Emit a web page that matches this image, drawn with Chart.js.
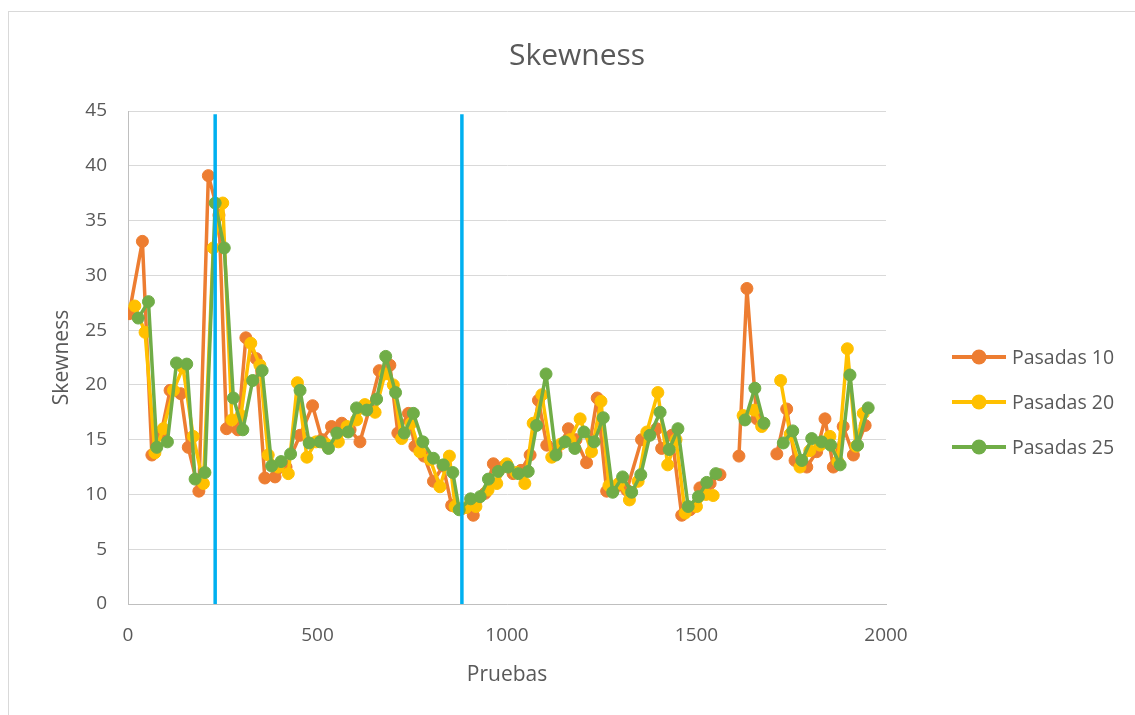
<!DOCTYPE html>
<html>
<head>
<meta charset="utf-8">
<script src="https://cdn.jsdelivr.net/npm/chart.js@4/dist/chart.umd.min.js"></script>
<style>
  html, body { margin: 0; padding: 0; background: #fff; }
  #wrap { position: relative; width: 1135px; height: 715px; }
</style>
</head>
<body>
<div id="wrap"><canvas id="chart"></canvas></div>
<script>
// datos (null = hueco en la serie)
const seriesNames = ['Pasadas 10', 'Pasadas 20', 'Pasadas 25'];
const seriesColors = ['#ED7D31', '#FFC000', '#70AD47'];

const orangeX = [3,38,63,87,111,139,159,187,212,240,260,290,311,338,361,388,417,454,487,512,537,564,586,612,637,663,691,712,740,757,781,806,831,854,881,911,942,964,989,1016,1037,1061,1083,1105,1129,1162,1182,1210,1238,1263,1282,1316,1355,1395,1408,1435,1461,1483,1509,1536,1562,1590,1612,1633,1659,1673,1692,1712,1738,1760,1791,1817,1839,1861,1887,1914,1945];
const orangeY = [26.5,33.1,13.6,15.5,19.5,19.2,14.3,10.3,39.1,35.5,16.0,15.9,24.3,22.4,11.5,11.6,12.5,15.4,18.1,15.0,16.2,16.5,15.9,14.8,17.8,21.3,21.8,15.6,17.4,14.4,13.5,11.2,12.6,9.0,8.7,8.1,10.1,12.8,12.5,11.9,12.2,13.6,18.6,14.5,13.8,16.0,15.0,12.9,18.8,10.3,10.5,10.4,15.0,16.0,14.2,15.4,8.1,8.6,10.6,11.0,11.8,null,13.5,28.8,16.9,16.3,null,13.7,17.8,13.1,12.5,13.9,16.9,12.5,16.2,13.6,16.3];

const yellowX = [18,45,71,93,120,145,172,199,225,250,274,298,324,348,370,396,423,447,472,496,522,555,578,603,625,652,678,700,722,747,770,797,823,848,863,892,918,950,973,999,1024,1047,1069,1092,1118,1142,1166,1193,1223,1248,1269,1295,1323,1346,1369,1398,1424,1446,1470,1500,1525,1544,1590,1623,1652,1672,1692,1722,1747,1773,1799,1826,1852,1873,1898,1921,1940];
const yellowY = [27.2,24.8,13.8,16.0,19.5,21.6,15.3,11.0,32.5,36.6,16.8,17.2,23.8,21.8,13.6,12.5,11.9,20.2,13.4,14.8,14.6,14.8,16.2,16.8,18.2,17.5,21.0,20.0,15.1,16.5,13.9,13.2,10.7,13.5,8.9,8.8,8.9,10.4,11.0,12.8,12.0,11.0,16.5,19.1,13.4,14.6,15.0,16.9,13.9,18.5,10.8,11.0,9.5,11.2,15.7,19.3,12.7,15.0,8.3,8.9,10.0,9.9,null,17.2,17.7,16.2,null,20.4,15.5,12.5,14.0,14.5,15.3,13.0,23.3,14.4,17.4];

const greenX = [27,54,76,104,128,155,177,203,230,254,278,303,329,354,379,404,429,454,478,507,529,551,581,603,630,656,680,706,729,753,778,806,832,857,874,904,929,951,977,1003,1030,1056,1078,1103,1129,1153,1179,1203,1230,1254,1279,1305,1329,1353,1377,1404,1428,1451,1478,1505,1527,1551,1590,1628,1654,1678,1700,1729,1754,1778,1804,1830,1854,1879,1905,1925,1953];
const greenY = [26.1,27.6,14.3,14.8,22.0,21.9,11.4,12.0,36.6,32.5,18.8,15.9,20.4,21.3,12.6,13.0,13.7,19.5,14.7,14.8,14.2,15.6,15.7,17.9,17.7,18.7,22.6,19.3,15.6,17.4,14.8,13.3,12.7,12.0,8.6,9.6,9.8,11.4,12.1,12.5,11.9,12.1,16.3,21.0,13.6,14.8,14.2,15.7,14.8,17.0,10.2,11.6,10.2,11.8,15.4,17.5,14.1,16.0,8.9,9.8,11.1,11.9,null,16.8,19.7,16.5,null,14.7,15.8,13.1,15.1,14.8,14.5,12.7,20.9,14.5,17.9];

// lineas verticales de corte
const cutX = [230, 881];
const cutBottom = 0;
const cutTop = 44.7;

const xTicks = [0, 500, 1000, 1500, 2000];
const yTicks = [0, 5, 10, 15, 20, 25, 30, 35, 40, 45];

const textColor = '#595959';
Chart.defaults.font.family = "'Open Sans', 'Noto Sans', sans-serif";
Chart.defaults.color = textColor;

function puntos(xs, ys) {
    return xs.map((x, i) => ({ x: x, y: ys[i] }));
}

function serie(i, xs, ys) {
    return {
        label: seriesNames[i],
        data: puntos(xs, ys),
        showLine: true,
        spanGaps: false,
        borderColor: seriesColors[i],
        backgroundColor: seriesColors[i],
        borderWidth: 3.5,
        borderJoinStyle: 'round',
        borderCapStyle: 'round',
        pointRadius: 6,
        pointBorderWidth: 1,
        pointBackgroundColor: seriesColors[i],
        pointBorderColor: seriesColors[i],
        order: 3 - i
    };
}

const datasets = [
    serie(0, orangeX, orangeY),
    serie(1, yellowX, yellowY),
    serie(2, greenX, greenY)
];
cutX.forEach(x => {
    datasets.push({
        data: [{ x: x, y: cutBottom }, { x: x, y: cutTop }],
        showLine: true,
        borderColor: '#00B0F0',
        borderWidth: 3.5,
        pointRadius: 0,
        order: 0
    });
});

// titulo, leyenda y borde del area del grafico
const decoracion = {
    id: 'decoracion',
    beforeDraw(chart) {
        const c = chart.ctx;
        c.save();
        c.strokeStyle = '#d9d9d9';
        c.lineWidth = 1;
        c.strokeRect(8.5, 11.5, 2000, 2000);
        c.restore();
    },
    afterDraw(chart) {
        const c = chart.ctx;
        c.save();
        c.fillStyle = textColor;
        c.font = "30px 'Open Sans'";
        c.textAlign = 'center';
        c.textBaseline = 'middle';
        c.fillText('Skewness', 577, 56);

        const items = chart.data.datasets.filter(d => d.label);
        items.forEach((d, i) => {
            const y = 357 + i * 45;
            c.strokeStyle = d.borderColor;
            c.lineWidth = 4;
            c.beginPath();
            c.moveTo(952, y);
            c.lineTo(1006, y);
            c.stroke();
            c.fillStyle = d.borderColor;
            c.beginPath();
            c.arc(979, y, 7.5, 0, Math.PI * 2);
            c.fill();
            c.fillStyle = textColor;
            c.font = "19.5px 'Open Sans'";
            c.textAlign = 'left';
            c.fillText(d.label, 1012, y + 1);
        });
        c.restore();
    }
};

new Chart(document.getElementById('chart'), {
    type: 'scatter',
    data: { datasets: datasets },
    plugins: [decoracion],
    options: {
        responsive: true,
        maintainAspectRatio: false,
        animation: false,
        layout: { padding: { top: 111, right: 249, bottom: 0, left: 0 } },
        plugins: {
            legend: { display: false },
            title: { display: false },
            tooltip: { enabled: false }
        },
        scales: {
            x: {
                type: 'linear',
                min: 0,
                max: 2000,
                afterBuildTicks: s => { s.ticks = xTicks.map(v => ({ value: v })); },
                afterFit: s => { s.height = 111; },
                grid: { display: false, drawTicks: false },
                border: { display: true, color: '#bfbfbf', width: 1 },
                ticks: { padding: 20, color: textColor, font: { size: 19 }, callback: v => String(v) },
                title: {
                    display: true,
                    text: 'Pruebas',
                    color: textColor,
                    font: { size: 21 },
                    padding: { top: 0, bottom: 27 }
                }
            },
            y: {
                min: 0,
                max: 45,
                afterBuildTicks: s => { s.ticks = yTicks.map(v => ({ value: v })); },
                afterFit: s => { s.width = 128; },
                grid: { color: '#d9d9d9', lineWidth: 1, drawTicks: false },
                border: { display: true, color: '#bfbfbf', width: 1 },
                ticks: { padding: 21, color: textColor, font: { size: 19 }, callback: v => String(v) },
                title: {
                    display: true,
                    text: 'Skewness',
                    color: textColor,
                    font: { size: 21 },
                    padding: { top: 49, bottom: 0 }
                }
            }
        }
    }
});
</script>
</body>
</html>
